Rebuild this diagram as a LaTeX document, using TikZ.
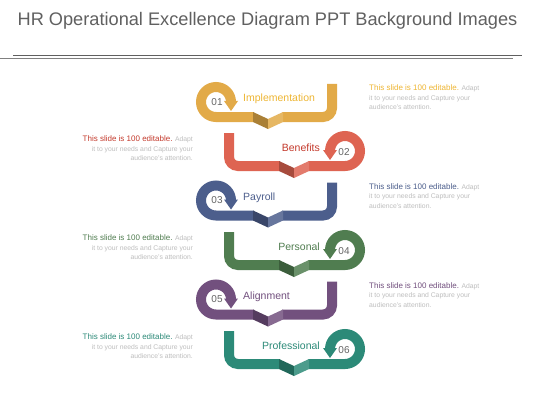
\documentclass[tikz,border=0pt]{standalone}
\usepackage{fontspec}
\setmainfont{Liberation Sans}
\usepackage{tikz}
\definecolor{jaune}{RGB}{226,170,72}
\definecolor{jaunetxt}{RGB}{238,182,52}
\definecolor{rouge}{RGB}{222,100,82}
\definecolor{rougetxt}{RGB}{196,58,44}
\definecolor{bleu}{RGB}{76,94,140}
\definecolor{vert}{RGB}{80,125,80}
\definecolor{prune}{RGB}{114,80,126}
\definecolor{canard}{RGB}{44,138,120}
\definecolor{titre}{RGB}{96,96,96}
\definecolor{gristxt}{RGB}{190,190,190}
\definecolor{grisnum}{RGB}{100,100,100}

\newcommand{\premier}[1]{{\fontsize{8}{9.5}\selectfont\textcolor{#1}{This slide is 100 editable.}} Adapt}

\newcommand{\boucleG}[6]{%
\draw [ruban,#1,rounded corners=9pt] (332,#3-18) -- (332,#3+15) -- (282,#3+15);
\draw [ruban,#1] (254,#3+15) -- (216,#3+15) arc[start angle=-90,end angle=-360,radius=15pt];
\fill [#1!75!black] (253,#3+10) -- (268,#3+17) -- (268,#3+27) -- (253,#3+20) -- cycle;
\fill [#1!85!white] (268,#3+17) -- (283,#3+10) -- (283,#3+20) -- (268,#3+27) -- cycle;
\fill [#1] (224,#3-1) -- (238,#3-1) -- (231,#3+9) -- cycle;
\node [numero] (n#6) at (217,#3) {#4};
\node [etiquette,anchor=west,text=#2] (e#6) at (243,#3-3) {#5};
\node [texte,anchor=north west,align=left] (t#6) at (369,#3-17) {\premier{#2}\\ it to your needs and Capture your\\ audience's attention.};
}

\newcommand{\boucleD}[6]{%
\draw [ruban,#1,rounded corners=9pt] (229,#3-18) -- (229,#3+15) -- (280,#3+15);
\draw [ruban,#1] (308,#3+15) -- (345,#3+15) arc[start angle=-90,end angle=180,radius=15pt];
\fill [#1!75!black] (279,#3+10) -- (294,#3+17) -- (294,#3+27) -- (279,#3+20) -- cycle;
\fill [#1!85!white] (294,#3+17) -- (309,#3+10) -- (309,#3+20) -- (294,#3+27) -- cycle;
\fill [#1] (323,#3-1) -- (337,#3-1) -- (330,#3+9) -- cycle;
\node [numero] (n#6) at (344,#3+1) {#4};
\node [etiquette,anchor=east,text=#2] (e#6) at (320,#3-3) {#5};
\node [texte,anchor=north east,align=right] (t#6) at (193,#3-15) {\premier{#2}\\ it to your needs and Capture your\\ audience's attention.};
}

\begin{document}
\begin{tikzpicture}[x=1pt,y=-1pt,
  ruban/.style={line width=10pt},
  numero/.style={font=\fontsize{10}{12}\selectfont,text=grisnum},
  etiquette/.style={font=\fontsize{10.5}{12}\selectfont,inner sep=0pt},
  texte/.style={font=\fontsize{6.8}{9.5}\selectfont,text=gristxt,inner sep=0pt},
  entete/.style={font=\fontsize{18.2}{21}\selectfont,text=titre}]
\useasboundingbox (0,0) rectangle (560,420);
\fill [white] (0,0) rectangle (560,420);
\node [entete] (titre) at (267.5,21) {HR Operational Excellence Diagram PPT Background Images};
\draw [titre, line width=1pt] (13,55.5) -- (522,55.5);
\draw [gray, line width=1pt] (0,58.5) -- (513,58.5);
\boucleG{jaune}{jaunetxt}{102}{01}{Implementation}{1}
\boucleD{rouge}{rougetxt}{151}{02}{Benefits}{2}
\boucleG{bleu}{bleu}{200.5}{03}{Payroll}{3}
\boucleD{vert}{vert}{250}{04}{Personal}{4}
\boucleG{prune}{prune}{299.5}{05}{Alignment}{5}
\boucleD{canard}{canard}{349}{06}{Professional}{6}
\end{tikzpicture}
\end{document}
